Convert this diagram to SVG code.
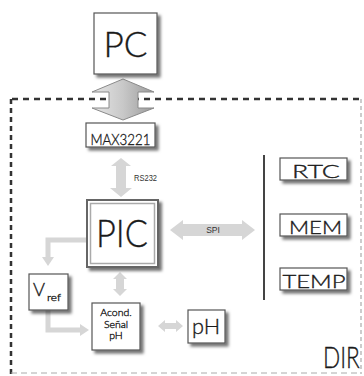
<svg xmlns="http://www.w3.org/2000/svg" width="364" height="376" viewBox="0 0 364 376">
<defs>
<filter id="sh" x="-20%" y="-20%" width="150%" height="150%">
<feDropShadow dx="3" dy="3" stdDeviation="1.5" flood-color="#000" flood-opacity="0.55"/>
</filter>
<linearGradient id="gbig" x1="0" y1="0" x2="1" y2="0">
<stop offset="0" stop-color="#e6e6e6"/>
<stop offset="0.5" stop-color="#c8c8c8"/>
<stop offset="1" stop-color="#9a9a9a"/>
</linearGradient>
<style>
.box{fill:#fff;stroke:#555;stroke-width:1.2;filter:url(#sh)}
.t{font-family:"Lato","Liberation Sans","DejaVu Sans",sans-serif;font-weight:300;fill:#1a1a1a;stroke:#1a1a1a;stroke-width:0.35}
.s{font-family:"Liberation Sans","DejaVu Sans",sans-serif;fill:#333}
.la{fill:#d6d6d6;stroke:none}
.ll{stroke:#d6d6d6;stroke-width:5;fill:none}
</style>
</defs>
<rect width="364" height="376" fill="#fff"/>
<g id="frame">
<line x1="12" y1="99" x2="361" y2="99" stroke="#333" stroke-width="2.5" stroke-dasharray="6 5"/>
<line x1="11" y1="99" x2="11" y2="374" stroke="#333" stroke-width="2.5" stroke-dasharray="5 4"/>
<line x1="361" y1="99" x2="361" y2="374" stroke="#999" stroke-width="1" stroke-dasharray="4 3"/>
<line x1="11" y1="373" x2="361" y2="373" stroke="#aaa" stroke-width="1" stroke-dasharray="6 4"/>
<line x1="264" y1="155" x2="264" y2="300" stroke="#444" stroke-width="2"/>
</g>
<g id="connectors">
<polygon points="123,79 154,92 138,92 138,108 154,108 123,120 92,108 109,108 109,92 92,92" fill="url(#gbig)" stroke="#8a8a8a" stroke-width="1"/>
<polygon class="la" points="121,158 131,166 126,166 126,188 132,188 121,197 110,188 116,188 116,166 111,166"/>
<polygon class="la" points="170,230 183,220 183,224 242,224 242,220 255,230 242,240 242,236 183,236 183,240"/>
<path class="ll" d="M87,240 H48 V258"/>
<polygon class="la" points="42,257 54,257 48,266"/>
<path class="ll" d="M48,310 V330 H81"/>
<polygon class="la" points="80,324 80,336 89,330"/>
<polygon class="la" points="120,272 127,279 124,279 124,289 127,289 120,296 113,289 116,289 116,279 113,279"/>
<polygon class="la" points="158,326 165,320 165,323 176,323 176,320 183,326 176,332 176,329 165,329 165,332"/>
<text class="s" x="134" y="181" font-size="9" textLength="23" lengthAdjust="spacingAndGlyphs">RS232</text>
<text class="s" x="213" y="233" font-size="8.5" text-anchor="middle" fill="#444">SPI</text>
</g>
<g id="PC">
<rect class="box" x="94" y="13" width="63" height="61"/>
<text class="t" x="125.5" y="57" font-size="35" text-anchor="middle" textLength="44" lengthAdjust="spacingAndGlyphs">PC</text>
</g>
<g id="MAX3221">
<rect class="box" x="86" y="123" width="69" height="24"/>
<text class="t" x="120.5" y="144.5" font-size="16" text-anchor="middle" textLength="60" lengthAdjust="spacingAndGlyphs">MAX3221</text>
</g>
<g id="PIC">
<rect x="87" y="200" width="71" height="67" fill="#fff" stroke="#666" stroke-width="2" filter="url(#sh)"/>
<rect x="90.5" y="203.5" width="64" height="60" fill="#fff" stroke="#aaa" stroke-width="1.5"/>
<text class="t" x="122" y="247" font-size="38" text-anchor="middle" textLength="52" lengthAdjust="spacingAndGlyphs">PIC</text>
</g>
<g id="RTC">
<rect class="box" x="280" y="158" width="67" height="22"/>
<text class="t" x="316" y="178" font-size="18" text-anchor="middle" textLength="48" lengthAdjust="spacingAndGlyphs">RTC</text>
</g>
<g id="MEM">
<rect class="box" x="280" y="214" width="67" height="22"/>
<text class="t" x="315.5" y="234" font-size="18" text-anchor="middle" textLength="53" lengthAdjust="spacingAndGlyphs">MEM</text>
</g>
<g id="TEMP">
<rect class="box" x="280" y="268" width="67" height="22"/>
<text class="t" x="314" y="288" font-size="18" text-anchor="middle" textLength="63" lengthAdjust="spacingAndGlyphs">TEMP</text>
</g>
<g id="Vref">
<rect class="box" x="29" y="274" width="39" height="36"/>
<text class="t" x="33" y="296" font-size="18" textLength="12" lengthAdjust="spacingAndGlyphs">V</text>
<text class="t" x="47" y="301" font-size="10" textLength="14" lengthAdjust="spacingAndGlyphs" stroke-width="0.15">ref</text>
</g>
<g id="Acond">
<rect class="box" x="92" y="303" width="48" height="47"/>
<text class="t" x="116" y="316" font-size="10.5" text-anchor="middle" stroke-width="0.15">Acond.</text>
<text class="t" x="116" y="327.5" font-size="10.5" text-anchor="middle" stroke-width="0.15">Señal</text>
<text class="t" x="116" y="339" font-size="10.5" text-anchor="middle" stroke-width="0.15">pH</text>
</g>
<g id="pH">
<rect class="box" x="188" y="310" width="37" height="33"/>
<text class="t" x="206" y="334" font-size="22" text-anchor="middle" textLength="28" lengthAdjust="spacingAndGlyphs">pH</text>
</g>
<g id="DIR">
<text class="t" transform="translate(323,368) scale(0.78,1)" x="0" y="0" font-size="29">DIR</text>
</g>
</svg>
